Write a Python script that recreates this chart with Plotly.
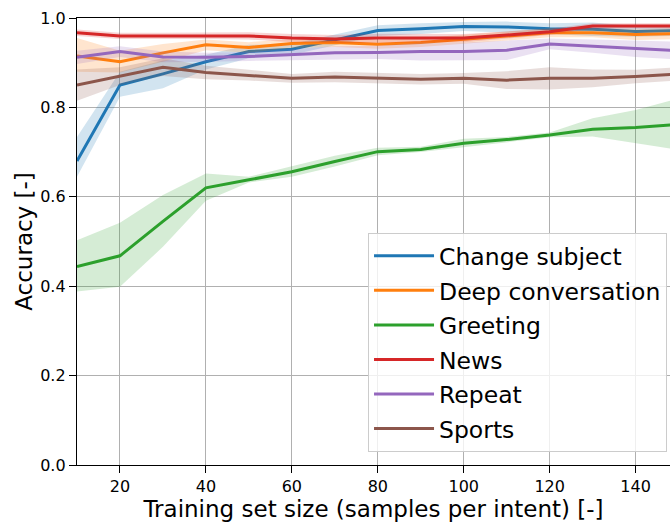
import plotly.graph_objects as go

# Training set sizes (samples per intent)
sizes = [10, 20, 30, 40, 50, 60, 70, 80, 90, 100, 110, 120, 130, 140, 150]

names = ["Change subject", "Deep conversation", "Greeting", "News", "Repeat", "Sports"]
colors = ["#1f77b4", "#ff7f0e", "#2ca02c", "#d62728", "#9467bd", "#8c564b"]
fills = ["rgba(31,119,180,0.2)", "rgba(255,127,14,0.2)", "rgba(44,160,44,0.2)",
         "rgba(214,39,40,0.2)", "rgba(148,103,189,0.2)", "rgba(140,86,75,0.2)"]

change_mean = [0.680, 0.850, 0.875, 0.902, 0.925, 0.930, 0.951, 0.972, 0.976, 0.981, 0.980, 0.976, 0.975, 0.970, 0.972]
change_low  = [0.645, 0.824, 0.843, 0.885, 0.910, 0.918, 0.939, 0.960, 0.964, 0.971, 0.968, 0.964, 0.960, 0.958, 0.960]
change_high = [0.734, 0.880, 0.905, 0.918, 0.940, 0.942, 0.963, 0.984, 0.988, 0.991, 0.992, 0.988, 0.990, 0.982, 0.984]

deep_mean = [0.915, 0.902, 0.922, 0.940, 0.934, 0.943, 0.945, 0.941, 0.945, 0.952, 0.960, 0.967, 0.967, 0.963, 0.965]
deep_low  = [0.880, 0.878, 0.902, 0.928, 0.922, 0.933, 0.935, 0.931, 0.935, 0.942, 0.950, 0.957, 0.957, 0.951, 0.953]
deep_high = [0.955, 0.927, 0.942, 0.952, 0.946, 0.953, 0.955, 0.951, 0.955, 0.962, 0.970, 0.977, 0.977, 0.975, 0.977]

greet_mean = [0.444, 0.468, 0.545, 0.620, 0.638, 0.656, 0.679, 0.701, 0.706, 0.720, 0.728, 0.738, 0.751, 0.755, 0.762]
greet_low  = [0.388, 0.399, 0.488, 0.591, 0.632, 0.645, 0.668, 0.693, 0.700, 0.710, 0.722, 0.733, 0.735, 0.720, 0.705]
greet_high = [0.503, 0.542, 0.604, 0.652, 0.645, 0.668, 0.692, 0.710, 0.712, 0.730, 0.734, 0.744, 0.776, 0.794, 0.820]

news_mean = [0.967, 0.960, 0.960, 0.960, 0.960, 0.955, 0.953, 0.955, 0.955, 0.955, 0.962, 0.969, 0.982, 0.982, 0.982]
news_low  = [0.960, 0.953, 0.953, 0.953, 0.952, 0.946, 0.944, 0.945, 0.945, 0.946, 0.954, 0.962, 0.976, 0.976, 0.976]
news_high = [0.974, 0.967, 0.967, 0.967, 0.968, 0.964, 0.962, 0.965, 0.965, 0.964, 0.970, 0.976, 0.988, 0.988, 0.988]

repeat_mean = [0.912, 0.925, 0.913, 0.912, 0.914, 0.918, 0.922, 0.923, 0.925, 0.925, 0.928, 0.942, 0.937, 0.931, 0.927]
repeat_low  = [0.897, 0.913, 0.901, 0.902, 0.904, 0.906, 0.907, 0.908, 0.905, 0.905, 0.906, 0.930, 0.922, 0.913, 0.907]
repeat_high = [0.927, 0.937, 0.925, 0.922, 0.924, 0.930, 0.937, 0.938, 0.945, 0.945, 0.950, 0.954, 0.952, 0.949, 0.947]

sports_mean = [0.850, 0.870, 0.890, 0.878, 0.872, 0.865, 0.868, 0.866, 0.863, 0.865, 0.861, 0.865, 0.865, 0.869, 0.875]
sports_low  = [0.815, 0.850, 0.870, 0.863, 0.860, 0.855, 0.856, 0.854, 0.851, 0.853, 0.841, 0.840, 0.845, 0.854, 0.860]
sports_high = [0.885, 0.890, 0.910, 0.893, 0.884, 0.875, 0.880, 0.878, 0.875, 0.877, 0.881, 0.890, 0.885, 0.884, 0.890]

means = [change_mean, deep_mean, greet_mean, news_mean, repeat_mean, sports_mean]
lows = [change_low, deep_low, greet_low, news_low, repeat_low, sports_low]
highs = [change_high, deep_high, greet_high, news_high, repeat_high, sports_high]

x_ticks = [20, 40, 60, 80, 100, 120, 140]
y_ticks = [0.0, 0.2, 0.4, 0.6, 0.8, 1.0]

fig = go.Figure()
for name, col, fc, m, lo, hi in zip(names, colors, fills, means, lows, highs):
    fig.add_trace(go.Scatter(
        x=sizes + sizes[::-1], y=hi + lo[::-1], fill="toself", fillcolor=fc,
        line=dict(width=0), mode="lines", hoverinfo="skip", showlegend=False))
    fig.add_trace(go.Scatter(
        x=sizes, y=m, mode="lines", name=name, legendgroup=name,
        line=dict(color=col, width=3)))

FONT = "DejaVu Sans, Liberation Sans, sans-serif"
fig.update_layout(
    width=670, height=522,
    margin=dict(l=77, r=0, t=18, b=57),
    paper_bgcolor="white", plot_bgcolor="white",
    font=dict(family=FONT, color="black", size=16),
    showlegend=True,
    legend=dict(
        x=0.995, y=0.029, xanchor="right", yanchor="bottom",
        bgcolor="rgba(255,255,255,0.8)", bordercolor="#cccccc", borderwidth=1,
        font=dict(size=23.5, family=FONT), itemwidth=60, tracegroupgap=1,
    ),
    xaxis=dict(
        range=[10, 148], tickvals=x_ticks, ticks="outside", ticklen=7, tickwidth=1.2,
        tickcolor="black", showline=True, linecolor="black", linewidth=1.3, mirror=True,
        showgrid=True, gridcolor="#b0b0b0", gridwidth=1, zeroline=False,
        tickfont=dict(size=16),
        title=dict(text="Training set size (samples per intent) [-]", font=dict(size=23), standoff=6),
    ),
    yaxis=dict(
        range=[0, 1], tickvals=y_ticks, tickformat=".1f", ticks="outside", ticklen=7,
        tickwidth=1.2, tickcolor="black", showline=True, linecolor="black", linewidth=1.3,
        mirror=False, showgrid=True, gridcolor="#b0b0b0", gridwidth=1, zeroline=False,
        tickfont=dict(size=16),
        title=dict(text="Accuracy [-]", font=dict(size=23), standoff=1),
    ),
)

fig.write_html("out.html")
